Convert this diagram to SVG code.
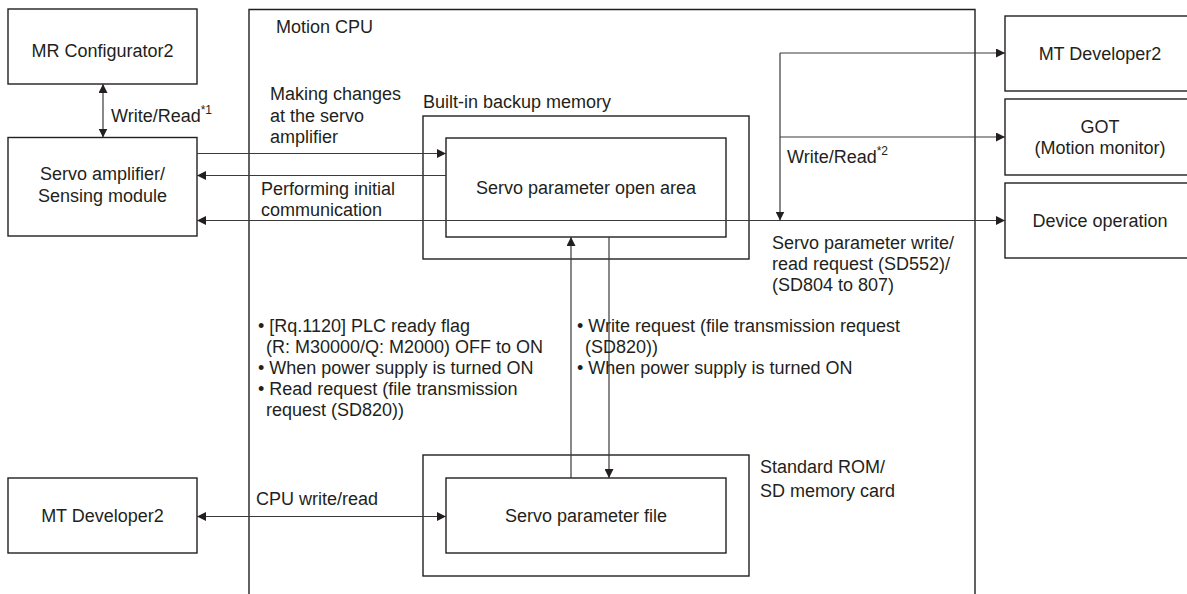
<svg xmlns="http://www.w3.org/2000/svg" width="1187" height="594" viewBox="0 0 1187 594">
<defs>
<style>
.box{fill:#fff;stroke:#231f20;stroke-width:1.4}
.frame{fill:none;stroke:#231f20;stroke-width:1.4}
.t{font-family:"Liberation Sans",Arial,sans-serif;font-size:18px;fill:#231f20}
.c{text-anchor:middle}
.sup{font-size:12px;fill:#231f20}
.ln{fill:none;stroke:#3a3a3a;stroke-width:1.2}
</style>
<marker id="ah" viewBox="0 0 10 10" refX="10" refY="5" markerWidth="9" markerHeight="9" markerUnits="userSpaceOnUse" orient="auto-start-reverse">
<path d="M0,0 L10,5 L0,10 Z" fill="#231f20"/>
</marker>
</defs>
<rect width="1187" height="594" fill="#fff"/>

<g id="motion-cpu">
<path class="frame" d="M249,600 V9.5 H975 V600"/>
<text class="t" x="276" y="33">Motion CPU</text>
</g>

<g id="mr-configurator2">
<rect class="box" x="8" y="9" width="189" height="75"/>
<text class="t c" x="102.5" y="57">MR Configurator2</text>
</g>

<g id="servo-amplifier">
<rect class="box" x="8" y="137.5" width="189" height="98.5"/>
<text class="t c" x="102.5" y="180">Servo amplifier/</text>
<text class="t c" x="102.5" y="202">Sensing module</text>
</g>

<g id="mt-developer2-left">
<rect class="box" x="8" y="478" width="189" height="75"/>
<text class="t c" x="102.5" y="522">MT Developer2</text>
</g>

<g id="backup-memory">
<rect class="box" x="423" y="116" width="326" height="143"/>
<text class="t" x="423" y="108">Built-in backup memory</text>
</g>

<g id="servo-parameter-open-area">
<rect class="box" x="446" y="138" width="280" height="99"/>
<text class="t c" x="586" y="194">Servo parameter open area</text>
</g>

<g id="standard-rom">
<rect class="box" x="423" y="455" width="326" height="121"/>
<text class="t" x="760" y="473">Standard ROM/</text>
<text class="t" x="760" y="497">SD memory card</text>
</g>

<g id="servo-parameter-file">
<rect class="box" x="446" y="478" width="280" height="75"/>
<text class="t c" x="586" y="522">Servo parameter file</text>
</g>

<g id="mt-developer2-right">
<rect class="box" x="1005" y="16" width="200" height="75"/>
<text class="t c" x="1100" y="60">MT Developer2</text>
</g>

<g id="got">
<rect class="box" x="1005" y="99" width="200" height="76"/>
<text class="t c" x="1100" y="133">GOT</text>
<text class="t c" x="1100" y="154">(Motion monitor)</text>
</g>

<g id="device-operation">
<rect class="box" x="1005" y="183" width="200" height="75"/>
<text class="t c" x="1100" y="227">Device operation</text>
</g>

<g id="connectors">
<line class="ln" x1="103" y1="84" x2="103" y2="137.5" marker-start="url(#ah)" marker-end="url(#ah)"/>
<line class="ln" x1="197" y1="153.5" x2="446" y2="153.5" marker-end="url(#ah)"/>
<line class="ln" x1="446" y1="175.5" x2="197" y2="175.5" marker-end="url(#ah)"/>
<line class="ln" x1="197" y1="220.5" x2="1005" y2="220.5" marker-start="url(#ah)" marker-end="url(#ah)"/>
<line class="ln" x1="780" y1="53" x2="780" y2="220.5" marker-end="url(#ah)"/>
<line class="ln" x1="780" y1="53" x2="1005" y2="53" marker-end="url(#ah)"/>
<line class="ln" x1="780" y1="137" x2="1005" y2="137" marker-end="url(#ah)"/>
<line class="ln" x1="571" y1="478" x2="571" y2="237" marker-end="url(#ah)"/>
<line class="ln" x1="609" y1="237" x2="609" y2="478" marker-end="url(#ah)"/>
<line class="ln" x1="197" y1="516.5" x2="446" y2="516.5" marker-start="url(#ah)" marker-end="url(#ah)"/>
</g>

<g id="labels">
<text class="t" x="111" y="122">Write/Read<tspan class="sup" dy="-8">*1</tspan></text>
<text class="t" x="270" y="100">Making changes</text>
<text class="t" x="270" y="121.5">at the servo</text>
<text class="t" x="270" y="143">amplifier</text>
<text class="t" x="261" y="195">Performing initial</text>
<text class="t" x="261" y="216">communication</text>
<text class="t" x="787" y="163">Write/Read<tspan class="sup" dy="-8">*2</tspan></text>
<text class="t" x="772" y="249">Servo parameter write/</text>
<text class="t" x="772" y="270">read request (SD552)/</text>
<text class="t" x="772" y="291">(SD804 to 807)</text>
<text class="t" x="258" y="332">• [Rq.1120] PLC ready flag</text>
<text class="t" x="266" y="353">(R: M30000/Q: M2000) OFF to ON</text>
<text class="t" x="258" y="374">• When power supply is turned ON</text>
<text class="t" x="258" y="395">• Read request (file transmission</text>
<text class="t" x="266" y="416">request (SD820))</text>
<text class="t" x="577" y="332">• Write request (file transmission request</text>
<text class="t" x="585" y="353">(SD820))</text>
<text class="t" x="577" y="374">• When power supply is turned ON</text>
<text class="t" x="256" y="505">CPU write/read</text>
</g>
</svg>
